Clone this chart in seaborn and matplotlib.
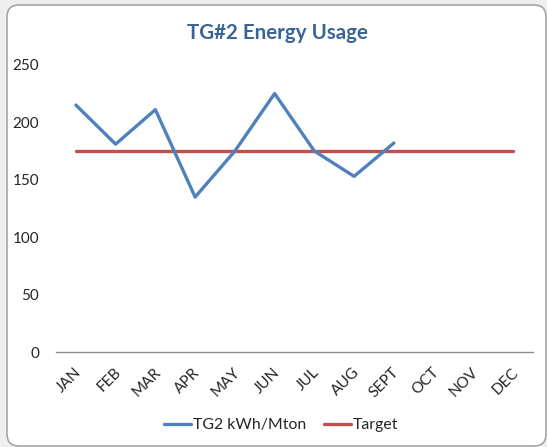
import matplotlib
matplotlib.use("Agg")
import matplotlib.pyplot as plt
import matplotlib.transforms as mtrans
from matplotlib.patches import FancyBboxPatch
from matplotlib.lines import Line2D
import seaborn as sns

# Monthly energy usage for TG#2 against the flat target
months = ["JAN", "FEB", "MAR", "APR", "MAY", "JUN",
          "JUL", "AUG", "SEPT", "OCT", "NOV", "DEC"]
usage_months = months[:9]
usage = [215, 181, 211, 135, 175, 225, 175, 153, 182]
target = [175] * 12
y_ticks = [0, 50, 100, 150, 200, 250]

BLUE = "#4F81BD"
RED = "#C0504D"
TEXT = "#262626"

sns.set_theme(style="white")
plt.rcParams["font.family"] = ["Lato", "DejaVu Sans"]

W, H = 547, 447
fig = plt.figure(figsize=(W / 100, H / 100), dpi=100)
fig.patch.set_facecolor("#efefef")

# rounded chart-area frame, kept behind the axes
frame = FancyBboxPatch((0.07, 0.01), 5.39, 4.41,
                       boxstyle="round,pad=0,rounding_size=0.12",
                       transform=fig.dpi_scale_trans,
                       facecolor="white", edgecolor="#a6a6a6", linewidth=1.2,
                       zorder=-5)
fig.add_artist(frame)

ax = fig.add_axes([56 / W, 1 - 352.3 / H, 477 / W, 287.5 / H])
ax.set_zorder(2)
ax.set_facecolor("none")

# target first so the category axis covers all twelve months
sns.lineplot(x=months, y=target, ax=ax, color=RED, linewidth=2.4,
             sort=False)
sns.lineplot(x=usage_months, y=usage, ax=ax, color=BLUE, linewidth=2.4,
             sort=False)

ax.set_xlim(-0.5, 11.5)
ax.set_ylim(0, 250)
ax.set_yticks(y_ticks)
ax.set_xlabel("")
ax.set_ylabel("")

for side in ["left", "right", "top"]:
    ax.spines[side].set_visible(False)
ax.spines["bottom"].set_color("#8c8c8c")
ax.spines["bottom"].set_linewidth(1.0)

ax.tick_params(axis="y", length=0, pad=12, labelsize=11, labelcolor=TEXT)
ax.tick_params(axis="x", length=0, pad=13, labelsize=11, labelcolor=TEXT)
shift = mtrans.ScaledTranslation(3 / 100, 0, fig.dpi_scale_trans)
for lbl in ax.get_xticklabels():
    lbl.set_rotation(45)
    lbl.set_ha("right")
    lbl.set_va("center")
    lbl.set_rotation_mode("anchor")
    lbl.set_transform(lbl.get_transform() + shift)

fig.text(277 / W, 1 - 33 / H, "TG#2 Energy Usage", ha="center", va="center",
         fontsize=14.8, fontweight="bold", color="#3B6496")

handles = [Line2D([], [], color=BLUE, linewidth=2.4),
           Line2D([], [], color=RED, linewidth=2.4)]
fig.legend(handles, ["TG2 kWh/Mton", "Target"], loc="center",
           bbox_to_anchor=(281 / W, 1 - 425 / H), ncol=2, frameon=False,
           fontsize=11.4, handlelength=1.7, handletextpad=0.15,
           columnspacing=1.1, labelcolor=TEXT)

fig.savefig("out.png", dpi=100, facecolor=fig.get_facecolor())
